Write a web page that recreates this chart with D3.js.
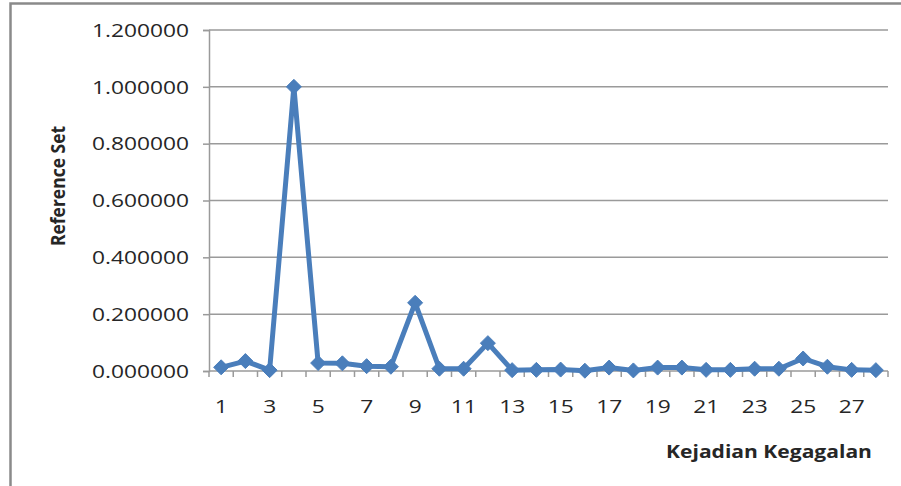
<!DOCTYPE html>
<html>
<head>
<meta charset="utf-8">
<script src="https://cdn.jsdelivr.net/npm/d3@7/dist/d3.min.js"></script>
<style>
  html, body { margin: 0; padding: 0; background: #fff; }
  svg { display: block; }
  text { font-family: "Open Sans", "Noto Sans", sans-serif; fill: #262626; }
</style>
</head>
<body>
<svg id="chart" width="901" height="486"></svg>
<script>
// Failure events (x) and their reference-set values (y)
const events = d3.range(1, 29);
const referenceSet = [
  0.013, 0.035, 0.003, 1.000, 0.028, 0.027, 0.017, 0.015, 0.240, 0.008,
  0.008, 0.098, 0.003, 0.004, 0.005, 0.001, 0.012, 0.002, 0.012, 0.012,
  0.004, 0.004, 0.008, 0.008, 0.044, 0.015, 0.004, 0.003
];
const yTicks = [0, 0.2, 0.4, 0.6, 0.8, 1.0, 1.2];
const xTickLabels = events.filter(d => d % 2 === 1);

const svg = d3.select("#chart");
const W = 901, H = 486;
const plot = { left: 209, right: 888, top: 30, bottom: 371 };
const stretch = 1.3;   // horizontally widened lettering

const x = d3.scaleBand().domain(events).range([plot.left, plot.right]);
const xc = d => x(d) + x.bandwidth() / 2;
const y = d3.scaleLinear().domain([0, 1.2]).range([plot.bottom, plot.top]);

// Chart frame (top and left edges)
svg.append("path")
  .attr("d", `M10.5,${H} L10.5,3.5 L${W},3.5`)
  .attr("fill", "none").attr("stroke", "#8a8a8a").attr("stroke-width", 2.5);

// Horizontal gridlines
svg.append("g").selectAll("line").data(yTicks.filter(d => d > 0)).join("line")
  .attr("x1", plot.left).attr("x2", plot.right)
  .attr("y1", d => y(d)).attr("y2", d => y(d))
  .attr("stroke", "#9a9a9a").attr("stroke-width", 1.5);

// Y axis
const yAxis = d3.axisLeft(y).tickValues(yTicks).tickSize(6).tickPadding(14)
  .tickFormat(d3.format(".6f"));
const gy = svg.append("g").attr("transform", `translate(${plot.left},0)`).call(yAxis);
gy.select(".domain").attr("stroke", "#9a9a9a").attr("stroke-width", 1.5);
gy.selectAll(".tick line").attr("stroke", "#9a9a9a").attr("stroke-width", 1.5);
gy.selectAll(".tick text")
  .attr("font-size", 17.5).attr("font-family", null).attr("fill", "#262626")
  .attr("dy", "0.36em")
  .each(function () {
    const t = d3.select(this);
    const tx = +t.attr("x");
    t.attr("x", null).attr("transform", `translate(${tx},0) scale(${stretch},1)`);
  });

// X axis: baseline with ticks on category boundaries
const gx = svg.append("g").attr("transform", `translate(0,${plot.bottom})`);
gx.append("line").attr("x1", plot.left).attr("x2", plot.right)
  .attr("stroke", "#9a9a9a").attr("stroke-width", 1.5);
gx.selectAll("line.tk").data(events.concat([29])).join("line").attr("class", "tk")
  .attr("x1", d => d === 29 ? plot.right : x(d))
  .attr("x2", d => d === 29 ? plot.right : x(d))
  .attr("y1", 0).attr("y2", 6)
  .attr("stroke", "#9a9a9a").attr("stroke-width", 1.5);
gx.selectAll("text").data(xTickLabels).join("text")
  .attr("transform", d => `translate(${xc(d)},42) scale(${stretch},1)`)
  .attr("text-anchor", "middle")
  .attr("font-size", 17.5)
  .text(d => d);

// Series line
svg.append("path")
  .datum(referenceSet)
  .attr("fill", "none")
  .attr("stroke", "#4a7ebb")
  .attr("stroke-width", 5)
  .attr("stroke-linejoin", "round")
  .attr("d", d3.line().x((d, i) => xc(events[i])).y(d => y(d)));

// Diamond markers
svg.append("g").selectAll("path").data(referenceSet).join("path")
  .attr("transform", (d, i) => `translate(${xc(events[i])},${y(d)})`)
  .attr("d", "M0,-7.5 L7.5,0 L0,7.5 L-7.5,0 Z")
  .attr("fill", "#4a7ebb").attr("stroke", "#4a7ebb").attr("stroke-width", 1);

// Axis titles
svg.append("text")
  .attr("transform", `translate(769,458) scale(1.17,1)`)
  .attr("text-anchor", "middle")
  .attr("font-size", 18).attr("font-weight", "bold")
  .text("Kejadian Kegagalan");

svg.append("text")
  .attr("transform", `translate(65,186) rotate(-90) scale(1.03,1.15)`)
  .attr("text-anchor", "middle")
  .attr("font-size", 17).attr("font-weight", "bold")
  .text("Reference Set");
</script>
</body>
</html>
